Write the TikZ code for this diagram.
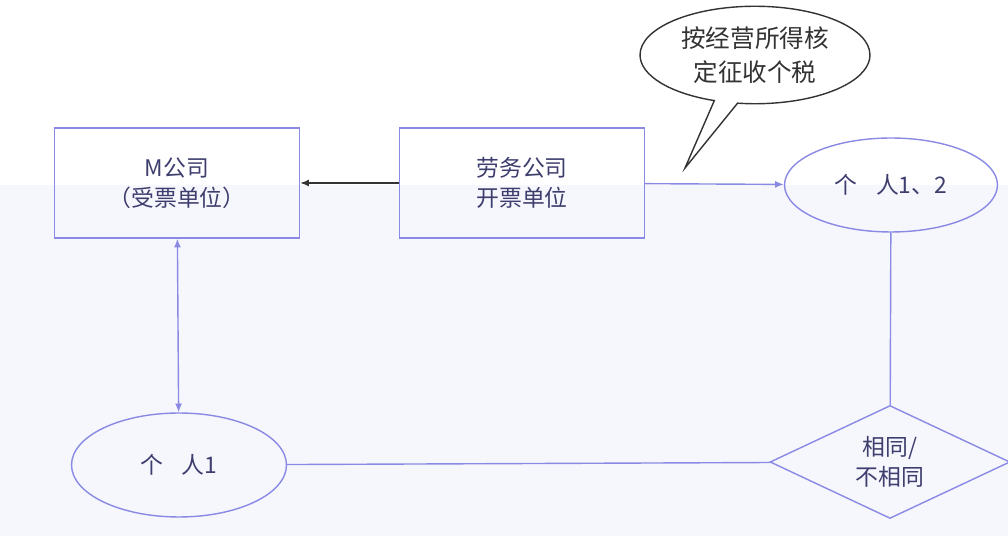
\documentclass[tikz,border=0pt]{standalone}
\usepackage{fontspec}
\setmainfont{Noto Sans CJK SC}
\usepackage{tikz}
\usetikzlibrary{arrows.meta}
\usetikzlibrary{shapes}
\usetikzlibrary{shapes.callouts}
\definecolor{lineblue}{HTML}{8A8AE4}
\definecolor{textblue}{HTML}{3E3E6E}
\definecolor{bgblue}{HTML}{F6F6FD}

\begin{document}
\begin{tikzpicture}[x=0.02cm,y=-0.02cm,font=\fontsize{13}{17}\selectfont,
    box/.style={draw=lineblue,thick,minimum width=4.9cm,minimum height=2.2cm,inner sep=0pt,align=center,text=textblue},
    person/.style={ellipse,draw=lineblue,thick,inner sep=0pt,text=textblue},
    check/.style={diamond,draw=lineblue,thick,inner sep=0pt,aspect=2.12,minimum width=4.8cm,minimum height=2.26cm,align=center,text=textblue},
    note/.style={ellipse callout,draw=black!80,thick,fill=white,align=center,minimum width=4.6cm,minimum height=1.95cm,inner sep=0pt,callout pointer arc=12,font=\fontsize{14}{19}\selectfont,text=black!80}]
          \useasboundingbox (0,0) rectangle (1008,536);
          \fill[bgblue] (0,185) rectangle (1008,536);
          \begin{scope}
            \node[box] (m) at (177,183) {M公司\\（受票单位）};
            \node[box] (ls) at (522,183) {劳务公司\\开票单位};
            \node[person,minimum width=4.26cm,minimum height=1.88cm] (p12) at (891,185) {个\hspace{0.8em}人1、2};
            \node[person,minimum width=4.3cm,minimum height=2.08cm] (p1) at (179,465) {个\hspace{0.8em}人1};
            \node[check] (same) at (890,462) {相同/\\不相同};
            \node[note,callout absolute pointer={(685,168)}] (tax) at (755,55) {按经营所得核\\定征收个税};
          \end{scope}
          \begin{scope}[every edge/.style={draw=lineblue,thick}]
            \path (ls) edge[-{Latex[length=5pt,width=4pt]},draw=black!80] (m);
            \path (ls) edge[-{Latex[length=5pt,width=4pt]}] (p12);
            \path (m) edge[{Latex[length=5pt,width=4pt]}-{Latex[length=5pt,width=4pt]}] (p1);
            \path (p12) edge (same);
            \path (p1) edge (same);
          \end{scope}
        \end{tikzpicture}
\end{document}
